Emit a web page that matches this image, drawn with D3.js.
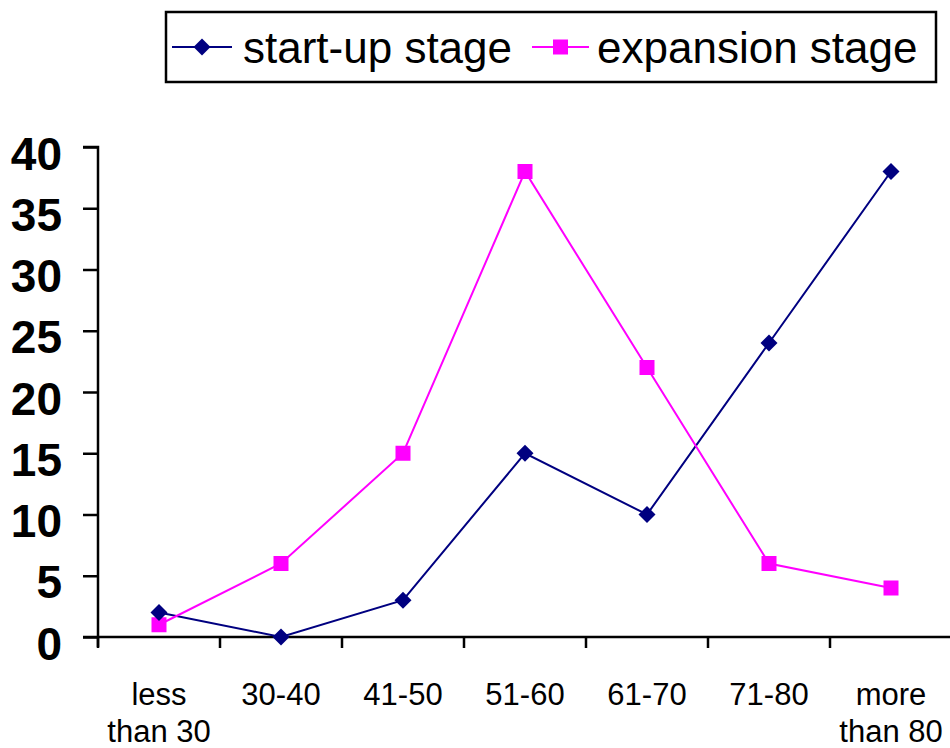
<!DOCTYPE html>
<html><head><meta charset="utf-8">
<script src="https://cdn.jsdelivr.net/npm/d3@7"></script>
<style>body{margin:0;background:#fff}svg{display:block}text{font-family:"Liberation Sans",Arial,sans-serif}</style>
</head><body><svg id="c" width="950" height="748"></svg>
<script>
const categories = [["less","than 30"],["30-40"],["41-50"],["51-60"],["61-70"],["71-80"],["more","than 80"]];
const startUp = [2,0,3,15,10,24,38];
const expansion = [1,6,15,38,22,6,4];
const yTicks = [0,5,10,15,20,25,30,35,40];
const seriesNames = ["start-up stage","expansion stage"];

const svg = d3.select("#c");
const x0 = 98, x1 = 952, yTop = 147, yBot = 637;
const x = d3.scaleBand().domain(d3.range(categories.length)).range([x0,x1]);
const y = d3.scaleLinear().domain([0,40]).range([yBot,yTop]);

// y axis
const ya = svg.append("g").attr("transform",`translate(${x0},0)`)
  .call(d3.axisLeft(y).tickValues(yTicks).tickSize(15).tickPadding(21));
ya.select(".domain").attr("stroke","#000").attr("stroke-width",2.5).attr("d",`M-15,${yTop}H0V${yBot+10}`);
ya.selectAll(".tick line").attr("stroke","#000").attr("stroke-width",2.5);
ya.selectAll("text").attr("font-size",46).attr("font-weight","bold").attr("fill","#000").attr("dy",null).attr("y",22);

// x axis
const xa = svg.append("g").attr("transform",`translate(0,${yBot})`);
xa.append("line").attr("x1",x0-15).attr("x2",x1).attr("stroke","#000").attr("stroke-width",2.5);
xa.selectAll("line.t").data(d3.range(categories.length+1)).join("line").attr("class","t")
  .attr("x1",i=>x0+i*x.step()).attr("x2",i=>x0+i*x.step()).attr("y1",0).attr("y2",11)
  .attr("stroke","#000").attr("stroke-width",2.5);
categories.forEach((c,i)=>{
  c.forEach((ln,j)=>{
    xa.append("text").attr("x",x(i)+x.bandwidth()/2).attr("y",68+j*37)
      .attr("text-anchor","middle").attr("font-size",31).attr("fill","#000").text(ln);
  });
});

const cx = i => x(i)+x.bandwidth()/2;
const line = d3.line().x((d,i)=>cx(i)).y(d=>y(d));
svg.append("path").datum(startUp).attr("d",line).attr("fill","none").attr("stroke","#000080").attr("stroke-width",2);
svg.append("path").datum(expansion).attr("d",line).attr("fill","none").attr("stroke","#FF00FF").attr("stroke-width",2);

const diamond = (px,py,s)=>`M${px},${py-s}L${px+s},${py}L${px},${py+s}L${px-s},${py}Z`;
svg.selectAll("rect.sq").data(expansion).join("rect").attr("class","sq")
  .attr("x",(d,i)=>cx(i)-7.5).attr("y",d=>y(d)-7.5).attr("width",15).attr("height",15).attr("fill","#FF00FF");
svg.selectAll("path.dm").data(startUp).join("path").attr("class","dm")
  .attr("d",(d,i)=>diamond(cx(i),y(d),8.5)).attr("fill","#000080");

// legend
const lg = svg.append("g");
lg.append("rect").attr("x",166).attr("y",12).attr("width",770).attr("height",70).attr("fill","#fff").attr("stroke","#000").attr("stroke-width",2.5);
lg.append("line").attr("x1",172).attr("x2",232).attr("y1",47).attr("y2",47).attr("stroke","#000080").attr("stroke-width",2);
lg.append("path").attr("d",diamond(202,47,8.5)).attr("fill","#000080");
lg.append("text").attr("x",243).attr("y",63).attr("font-size",44).text(seriesNames[0]);
lg.append("line").attr("x1",532).attr("x2",589).attr("y1",47).attr("y2",47).attr("stroke","#FF00FF").attr("stroke-width",2);
lg.append("rect").attr("x",553).attr("y",39.5).attr("width",15).attr("height",15).attr("fill","#FF00FF");
lg.append("text").attr("x",597).attr("y",63).attr("font-size",44).text(seriesNames[1]);
</script></body></html>
